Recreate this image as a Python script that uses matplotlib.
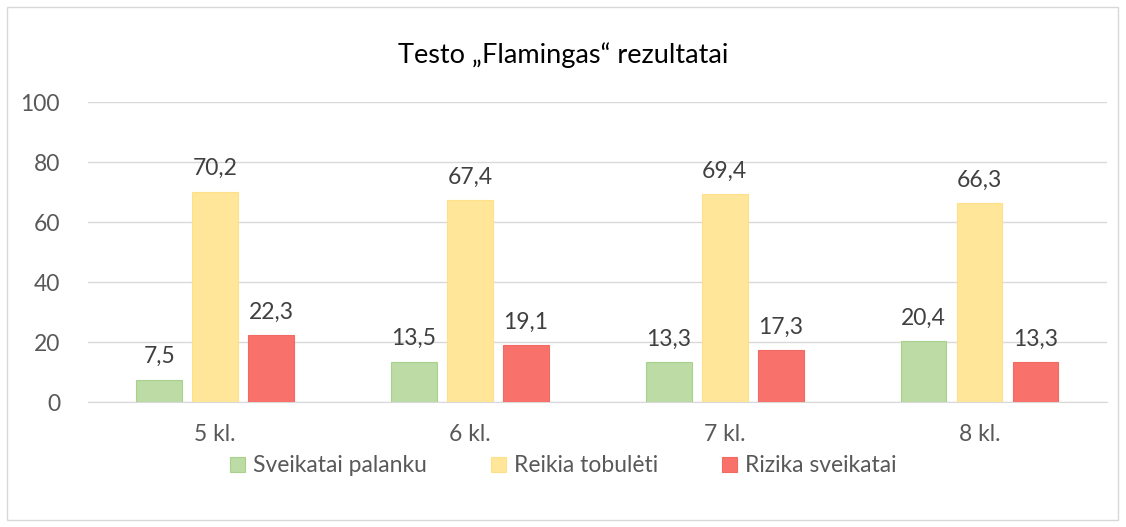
import numpy as np
import matplotlib.pyplot as plt
from matplotlib.patches import Rectangle

plt.rcParams['font.family'] = ['Lato', 'DejaVu Sans']

categories = ['5 kl.', '6 kl.', '7 kl.', '8 kl.']
series_names = ['Sveikatai palanku', 'Reikia tobulėti', 'Rizika sveikatai']
palanku = [7.5, 13.5, 13.3, 20.4]
tobuleti = [70.2, 67.4, 69.4, 66.3]
rizika = [22.3, 19.1, 17.3, 13.3]

colors = ['#BDDBA5', '#FFE699', '#F8716A']
edges = ['#A9D18E', '#FFE08A', '#F26B63']
txt = '#595959'
fs = 16.5

fig = plt.figure(figsize=(11.26, 5.27), dpi=100)
ax = fig.add_axes([0.078, 0.237, 0.905, 0.569])

x = np.arange(len(categories))
width = 0.18
offsets = [-0.22, 0, 0.22]
for vals, name, off, c, e in zip([palanku, tobuleti, rizika], series_names, offsets, colors, edges):
    bars = ax.bar(x + off, vals, width, color=c, edgecolor=e, linewidth=0.8, label=name, zorder=3)
    for b, v in zip(bars, vals):
        ax.annotate(f'{v:.1f}'.replace('.', ','), (b.get_x() + b.get_width() / 2, v),
                    xytext=(0, 16.5), textcoords='offset points', ha='center', va='center',
                    fontsize=fs, color='#404040')

ax.set_xlim(-0.5, len(categories) - 0.5)
ax.set_ylim(0, 100)
ax.set_yticks(range(0, 101, 20))
ax.set_xticks(x)
ax.set_xticklabels(categories)
ax.tick_params(axis='both', length=0, labelsize=fs, colors=txt)
ax.tick_params(axis='x', pad=16)
ax.tick_params(axis='y', pad=20)
ax.grid(axis='y', color='#D9D9D9', linewidth=1, zorder=0)
for s in ['top', 'right', 'left']:
    ax.spines[s].set_visible(False)
ax.spines['bottom'].set_color('#D9D9D9')

fig.text(0.5, 1 - 55 / 527, 'Testo „Flamingas“ rezultatai', ha='center', va='center',
         fontsize=19.5, color='#000000')

fig.legend(loc='center', bbox_to_anchor=(0.5, 1 - 466 / 527), ncol=3, frameon=False,
           fontsize=fs, handlelength=0.65, handleheight=0.65, columnspacing=2.8,
           handletextpad=0.35, labelcolor=txt)

fig.patches.append(Rectangle((7 / 1126, 7 / 527), 1111 / 1126, 513 / 527, transform=fig.transFigure,
                             fill=False, edgecolor='#D9D9D9', linewidth=1))

fig.savefig('out.png', dpi=100)
